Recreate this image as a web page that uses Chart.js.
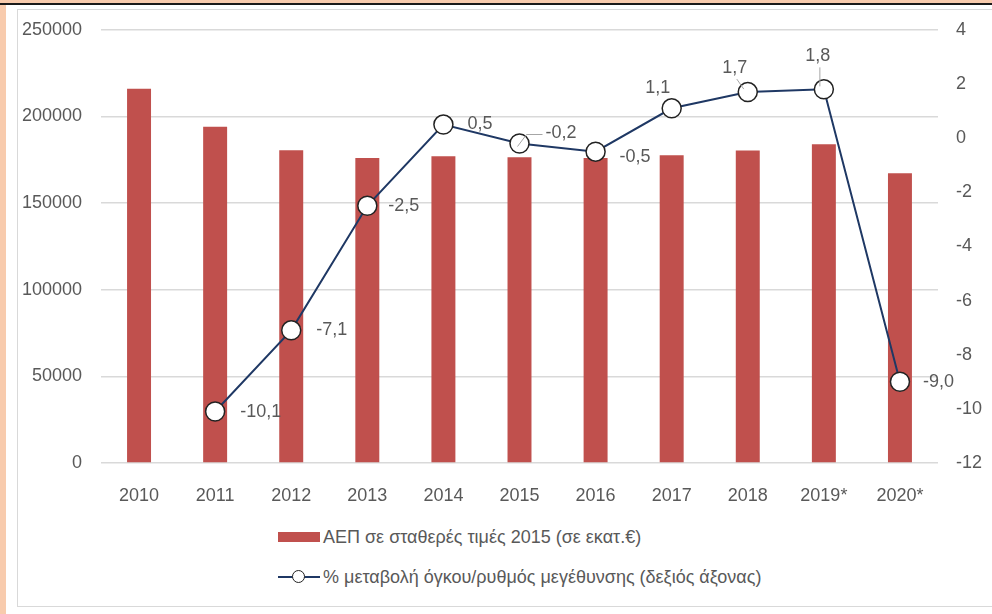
<!DOCTYPE html>
<html>
<head>
<meta charset="utf-8">
<script src="https://cdn.jsdelivr.net/npm/chart.js@4/dist/chart.umd.min.js"></script>
<style>
  body { margin:0; width:992px; height:614px; overflow:hidden; background:#fff; position:relative; font-family:"Liberation Sans", Arial, sans-serif; }
  #peachTop { position:absolute; left:0; top:0; width:992px; height:3px; background:#F8CBAD; }
  #darkLine { position:absolute; left:0; top:3px; width:992px; height:2px; background:#1a1a1a; }
  #peachLeft { position:absolute; left:0; top:5px; width:6px; height:609px; background:#F8CBAD; }
  #box { position:absolute; left:17px; top:9px; width:990px; height:598px; border:1px solid #D9D9D9; box-sizing:border-box; }
  #wrap { position:absolute; left:0; top:0; width:992px; height:503px; }
  #legend { position:absolute; left:278px; top:522px; color:#595959; font-size:18px; }
  .item { display:flex; align-items:center; height:30px; margin-bottom:10px; }
  .swatch { width:42px; height:10px; background:#C0504D; margin-right:3px; }
  .lineSw { width:42px; height:14px; position:relative; margin-right:3px; }
  .lineSw:before { content:""; position:absolute; left:0; right:0; top:6px; height:2px; background:#1F3864; }
  .lineSw:after { content:""; position:absolute; left:14px; top:0; width:11px; height:11px; border:1.5px solid #222; border-radius:50%; background:#fff; }
</style>
</head>
<body>
<div id="peachTop"></div>
<div id="darkLine"></div>
<div id="peachLeft"></div>
<div id="box"></div>
<div id="wrap"><canvas id="chart" width="992" height="503"></canvas></div>
<div id="legend"></div>
<script>
const years = ['2010','2011','2012','2013','2014','2015','2016','2017','2018','2019*','2020*'];
const gdp = [216000, 194000, 180500, 176000, 177000, 176500, 176000, 177600, 180400, 183900, 167200];
const growth = [null, -10.1, -7.1, -2.5, 0.5, -0.2, -0.5, 1.1, 1.7, 1.8, -9.0];
const gdpLabel = 'ΑΕΠ σε σταθερές τιμές 2015 (σε εκατ.€)';
const growthLabel = '% μεταβολή όγκου/ρυθμός μεγέθυνσης (δεξιός άξονας)';

// label offsets from the point (dx, dy), and whether a small leader line is drawn
const labelOffsets = [null, [25,0], [25,0], [21,0], [24,-1], [26,-10], [24,5], [-14,-20], [-13,-24], [-6,-33], [23,0]];
const leaders = [false, false, false, false, false, true, false, false, true, true, false];

const textColor = '#595959';
const tickFont = { family: '"Liberation Sans", Arial, sans-serif', size: 18 };

const dataLabels = {
  id: 'dataLabels',
  afterDatasetsDraw(chart) {
    const meta = chart.getDatasetMeta(1);
    const ctx = chart.ctx;
    ctx.save();
    ctx.font = '18px "Liberation Sans", Arial, sans-serif';
    ctx.fillStyle = textColor;
    ctx.textBaseline = 'middle';
    meta.data.forEach((pt, i) => {
      const v = growth[i];
      if (v === null) return;
      const off = labelOffsets[i];
      const txt = v.toFixed(1).replace('.', ',');
      const tx = pt.x + off[0], ty = pt.y + off[1];
      if (off[0] < 0) { ctx.textAlign = 'center'; } else { ctx.textAlign = 'left'; }
      if (leaders[i]) {
        ctx.strokeStyle = '#A6A6A6';
        ctx.lineWidth = 1;
        ctx.beginPath();
        if (off[0] < 0) {
          ctx.moveTo(pt.x - 4, pt.y - 3);
          ctx.lineTo(tx + 2, ty + 11);
        } else {
          ctx.moveTo(pt.x - 2, pt.y + 3);
          ctx.lineTo(pt.x + 7, pt.y - 9);
          ctx.lineTo(tx - 3, pt.y - 9);
        }
        ctx.stroke();
      }
      ctx.fillText(txt, tx, ty);
    });
    ctx.restore();
  }
};

const ctx = document.getElementById('chart').getContext('2d');
const chart = new Chart(ctx, {
  data: {
    labels: years,
    datasets: [
      {
        type: 'bar',
        label: gdpLabel,
        data: gdp,
        backgroundColor: '#C0504D',
        barPercentage: 0.315,
        categoryPercentage: 1,
        yAxisID: 'y',
        order: 2
      },
      {
        type: 'line',
        label: growthLabel,
        data: growth,
        borderColor: '#1F3864',
        borderWidth: 2,
        pointRadius: 9.5,
        pointBackgroundColor: '#ffffff',
        pointBorderColor: '#222222',
        pointBorderWidth: 1.5,
        tension: 0,
        yAxisID: 'y1',
        order: 1
      }
    ]
  },
  options: {
    responsive: false,
    animation: false,
    layout: { padding: { top: 28, left: 0, right: 0, bottom: 0 } },
    plugins: {
      legend: { display: false },
      tooltip: { enabled: false }
    },
    scales: {
      x: {
        grid: { display: false },
        border: { display: false },
        ticks: { color: textColor, font: tickFont, padding: 14 },
        afterFit(scale) { scale.height = 40; }
      },
      y: {
        position: 'left',
        min: 0, max: 250000,
        ticks: {
          stepSize: 50000, color: textColor, font: tickFont, padding: 19,
          callback: (v) => String(v)
        },
        grid: { color: '#D9D9D9', lineWidth: 1.5, drawTicks: false },
        border: { display: false },
        afterFit(scale) { scale.width = 101; }
      },
      y1: {
        position: 'right',
        min: -12, max: 4,
        ticks: { stepSize: 2, color: textColor, font: tickFont, padding: 18 },
        grid: { display: false, drawTicks: false },
        border: { display: false },
        afterFit(scale) { scale.width = 54; }
      }
    }
  },
  plugins: [dataLabels]
});

// legend
const legend = document.getElementById('legend');
legend.innerHTML =
  '<div class="item"><span class="swatch"></span><span>' + gdpLabel + '</span></div>' +
  '<div class="item"><span class="lineSw"></span><span>' + growthLabel + '</span></div>';
</script>
</body>
</html>
